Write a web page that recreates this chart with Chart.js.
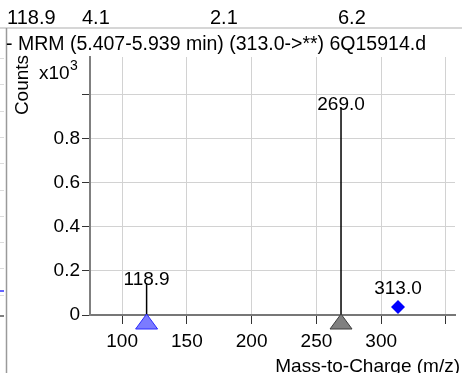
<!DOCTYPE html>
<html>
<head>
<meta charset="utf-8">
<script src="https://cdn.jsdelivr.net/npm/chart.js@4"></script>
<style>
html,body{margin:0;padding:0;background:#fff;}
#wrap{position:relative;width:462px;height:373px;}
</style>
</head>
<body>
<div id="wrap"><canvas id="c" width="462" height="373"></canvas></div>
<script>
// ---- data ----
const stemMz = [118.9, 269.0];
const stemCounts = [0.145, 0.94];          // x10^3
const precursorMz = [313.0];
const precursorCounts = [0.036];
const triangleColors = ['rgba(100,100,255,0.85)', '#808080'];
const triangleBorders = ['#2a2aff', '#3c3c3c'];
const xTickValues = [100, 150, 200, 250, 300, 350];
const xTickLabels = ['100', '150', '200', '250', '300', ''];
const yTickValues = [0, 0.2, 0.4, 0.6, 0.8, 1.0];
const yTickLabels = ['0', '0.2', '0.4', '0.6', '0.8', ''];
const headerValues = ['118.9', '4.1', '2.1', '6.2'];
const titleText = '- MRM (5.407-5.939 min) (313.0->**) 6Q15914.d';
const xTitle = 'Mass-to-Charge (m/z)';
const yTitle = 'Counts';

const FONT = '"Liberation Sans", Arial, sans-serif';
const FS = 19;
const FS_HEAD = 20;

const decor = {
  id: 'decor',
  beforeDraw(chart) {
    const ctx = chart.ctx;
    ctx.save();
    ctx.fillStyle = '#fff';
    ctx.fillRect(0, 0, chart.width, chart.height);
    // header strip
    ctx.strokeStyle = '#c8c8c8';
    ctx.lineWidth = 1.5;
    ctx.beginPath(); ctx.moveTo(0, 28); ctx.lineTo(chart.width, 28); ctx.stroke();
    ctx.strokeStyle = '#9a9a9a';
    ctx.lineWidth = 1.5;
    ctx.beginPath(); ctx.moveTo(6.5, 28); ctx.lineTo(6.5, chart.height); ctx.stroke();
    // small ticks of neighbouring panel
    ctx.strokeStyle = '#dcdcdc'; ctx.lineWidth = 1;
    for (let y = 58; y < 300; y += 26.3) {
      ctx.beginPath(); ctx.moveTo(0, Math.round(y) + 0.5); ctx.lineTo(4, Math.round(y) + 0.5); ctx.stroke();
    }
    ctx.strokeStyle = '#3030ff'; ctx.lineWidth = 1.5;
    ctx.beginPath(); ctx.moveTo(0, 291); ctx.lineTo(4, 291); ctx.stroke();
    ctx.strokeStyle = '#555'; ctx.lineWidth = 1.5;
    ctx.beginPath(); ctx.moveTo(0, 316); ctx.lineTo(4, 316); ctx.stroke();

    ctx.fillStyle = '#000';
    ctx.font = FS_HEAD + 'px ' + FONT;
    ctx.textBaseline = 'alphabetic';
    ctx.textAlign = 'left';
    const hx = [7, 82, 210, 338];
    headerValues.forEach((t, i) => ctx.fillText(t, hx[i], 24));
    ctx.font = '19.5px ' + FONT;
    ctx.fillText(titleText, 6, 50);
    ctx.font = FS + 'px ' + FONT;
    // y title
    ctx.save();
    ctx.translate(28, 85);
    ctx.rotate(-Math.PI / 2);
    ctx.textAlign = 'center';
    ctx.fillText(yTitle, 0, 0);
    ctx.restore();
    // x10^3
    ctx.fillText('x10', 39, 79);
    ctx.font = '14px ' + FONT;
    ctx.fillText('3', 70, 70);
    // x title
    ctx.font = FS + 'px ' + FONT;
    ctx.textAlign = 'right';
    ctx.fillText(xTitle, 460, 372);
    ctx.restore();
  },
  afterDatasetsDraw(chart) {
    const ctx = chart.ctx;
    const xs = chart.scales.x, ys = chart.scales.y;
    const y0 = ys.getPixelForValue(0);
    ctx.save();
    ctx.font = FS + 'px ' + FONT;
    ctx.textAlign = 'center';
    ctx.textBaseline = 'alphabetic';
    stemMz.forEach((mz, i) => {
      const px = xs.getPixelForValue(mz);
      const py = ys.getPixelForValue(stemCounts[i]);
      ctx.fillStyle = '#000';
      ctx.fillText(mz.toFixed(1), px, py + 2);
      // triangle marker below the axis
      ctx.beginPath();
      ctx.moveTo(px, y0 - 1);
      ctx.lineTo(px + 11, y0 + 14);
      ctx.lineTo(px - 11, y0 + 14);
      ctx.closePath();
      ctx.fillStyle = triangleColors[i];
      ctx.fill();
      ctx.strokeStyle = triangleBorders[i];
      ctx.lineWidth = 1;
      ctx.stroke();
    });
    precursorMz.forEach((mz, i) => {
      const px = xs.getPixelForValue(mz);
      const py = ys.getPixelForValue(precursorCounts[i]);
      ctx.fillStyle = '#000';
      ctx.fillText(mz.toFixed(1), px, py - 13);
    });
    ctx.restore();
  }
};

const stemDatasets = stemMz.map((mz, i) => ({
  type: 'line',
  data: [{x: mz, y: 0}, {x: mz, y: stemCounts[i]}],
  borderColor: '#000',
  borderWidth: 1.5,
  pointRadius: 0,
  showLine: true,
  fill: false,
  clip: false
}));

new Chart(document.getElementById('c'), {
  type: 'scatter',
  data: {
    datasets: stemDatasets.concat([
      {
        type: 'scatter',
        data: precursorMz.map((x, i) => ({x: x, y: precursorCounts[i]})),
        pointStyle: 'rectRot',
        radius: 7,
        backgroundColor: '#0000ff',
        borderColor: '#0000ff',
        borderWidth: 0
      }
    ])
  },
  options: {
    responsive: false,
    animation: false,
    events: [],
    layout: {padding: {top: 57, left: 0, right: 0, bottom: 0}},
    plugins: {legend: {display: false}, tooltip: {enabled: false}},
    scales: {
      x: {
        type: 'linear',
        min: 75.2,
        max: 357,
        afterBuildTicks(s) { s.ticks = xTickValues.map(v => ({value: v})); },
        afterFit(s) { s.height = 58; s.paddingLeft = 0; s.paddingRight = 0; },
        ticks: {
          autoSkip: false,
          maxRotation: 0,
          padding: 6,
          color: '#000',
          font: {family: FONT, size: FS},
          callback: (v, i) => xTickLabels[i]
        },
        grid: {
          color: '#d2d2d2',
          tickColor: '#333',
          tickLength: 9,
          lineWidth: 1
        },
        border: {color: '#777', width: 2}
      },
      y: {
        type: 'linear',
        min: 0,
        max: 1.17,
        afterBuildTicks(s) { s.ticks = yTickValues.map(v => ({value: v})); },
        afterFit(s) { s.width = 90; s.paddingTop = 0; s.paddingBottom = 0; },
        ticks: {
          autoSkip: false,
          padding: 2,
          color: '#000',
          font: {family: FONT, size: FS},
          callback: (v, i) => yTickLabels[i]
        },
        grid: {
          color: '#d2d2d2',
          tickColor: '#333',
          tickLength: 8,
          lineWidth: 1
        },
        border: {color: '#808080', width: 2}
      }
    }
  },
  plugins: [decor]
});
</script>
</body>
</html>
